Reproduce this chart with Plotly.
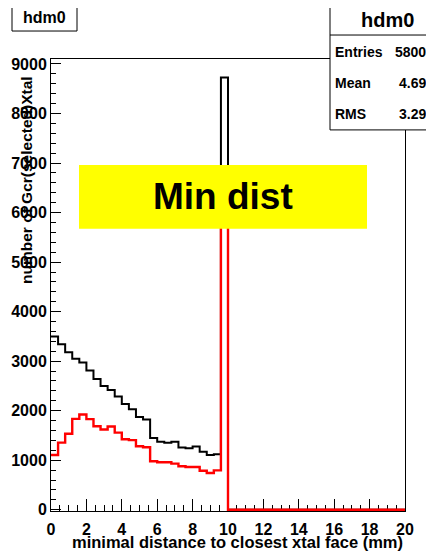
import numpy as np
import plotly.graph_objects as go

# ---- data -------------------------------------------------------------
x_min, x_max, n_bins = 0.0, 20.0, 50
black_counts = [3500, 3340, 3180, 3050, 2975, 2810, 2640, 2497, 2420, 2285,
                2136, 2030, 1875, 1822, 1451, 1375, 1355, 1375, 1255, 1240,
                1275, 1170, 1105, 1120, 8725] + [0] * 25
red_counts = [1105, 1355, 1535, 1835, 1923, 1830, 1687, 1619, 1680, 1558,
              1423, 1405, 1282, 1262, 978, 958, 958, 931, 877, 864,
              864, 789, 742, 796, 6500] + [0] * 25
hist_name = "hdm0"
stat_labels = ["Entries", "Mean", "RMS"]
stat_values = ["58004", "4.699", "3.292"]
x_title = "minimal distance to closest xtal face (mm)"
y_title = "number of Gcr(selected)Xtal"
label_text = "Min dist"

edges = list(np.linspace(x_min, x_max, n_bins + 1))

OFF = 8  # page body margin
W, H = 434 - OFF, 559 - OFF
L, R, T, B = 51 - OFF, 405 - OFF, 59 - OFF, 511.5 - OFF
Y0, Y1 = -25, 9100
FONT = "Liberation Sans"


def px(x):
    return (x - OFF - L) / (R - L)


def py(y):
    return (B - (y - OFF)) / (B - T)


def step_xy(counts):
    return edges, list(counts) + [counts[-1]]


fig = go.Figure()
bx, by = step_xy(black_counts)
fig.add_trace(go.Scatter(x=bx, y=by, mode="lines", line=dict(color="black", width=2, shape="hv"),
                         hoverinfo="skip", showlegend=False))
rx, ry = step_xy(red_counts)
fig.add_trace(go.Scatter(x=rx, y=ry, mode="lines", line=dict(color="#ff0000", width=2.4, shape="hv"),
                         hoverinfo="skip", showlegend=False))

tickfont = dict(family=FONT, size=16, color="black", weight="bold")

fig.update_xaxes(range=[x_min, x_max], dtick=2, tick0=0, ticks="inside", ticklen=12,
                 tickcolor="black", tickwidth=1, showgrid=False, zeroline=False,
                 showline=True, linecolor="black", linewidth=1, mirror=True,
                 tickfont=tickfont, layer="below traces", ticklabelstandoff=4, automargin=False,
                 minor=dict(dtick=0.5, ticks="inside", ticklen=6, tickcolor="black", showgrid=False))
fig.update_yaxes(range=[Y0, Y1], dtick=1000, tick0=0, ticks="inside", ticklen=10,
                 tickcolor="black", tickwidth=1, showgrid=False, zeroline=False,
                 showline=True, linecolor="black", linewidth=1, mirror=True,
                 tickfont=tickfont, layer="below traces", automargin=False,
                 minor=dict(dtick=200, ticks="inside", ticklen=5, tickcolor="black", showgrid=False))

shapes = []
annotations = []

# title box
shapes.append(dict(type="rect", xref="paper", yref="paper", x0=px(12), x1=px(77), y0=py(31), y1=py(4),
                   line=dict(color="black", width=1), fillcolor="white", layer="above"))
annotations.append(dict(xref="paper", yref="paper", x=px(44.5), y=py(17.5), text=hist_name,
                        showarrow=False, xanchor="center", yanchor="middle",
                        font=dict(family=FONT, size=16, color="black", weight="bold")))

# stats box
shapes.append(dict(type="rect", xref="paper", yref="paper", x0=px(330), x1=px(444), y0=py(130), y1=py(3.5),
                   line=dict(color="black", width=1), fillcolor="white", layer="above"))
shapes.append(dict(type="line", xref="paper", yref="paper", x0=px(330), x1=px(444), y0=py(35), y1=py(35),
                   line=dict(color="black", width=1), layer="above"))
annotations.append(dict(xref="paper", yref="paper", x=px(387), y=py(19.5), text=hist_name,
                        showarrow=False, xanchor="center", yanchor="middle",
                        font=dict(family=FONT, size=20, color="black", weight="bold")))
for i, (lab, val) in enumerate(zip(stat_labels, stat_values)):
    yy = [52, 83, 114][i]
    annotations.append(dict(xref="paper", yref="paper", x=px(333), y=py(yy), text=lab,
                            showarrow=False, xanchor="left", yanchor="middle",
                            font=dict(family=FONT, size=14, color="black", weight="bold")))
    annotations.append(dict(xref="paper", yref="paper", x=px(436), y=py(yy), text=val,
                            showarrow=False, xanchor="right", yanchor="middle",
                            font=dict(family=FONT, size=14, color="black", weight="bold")))

# yellow label
shapes.append(dict(type="rect", xref="paper", yref="paper", x0=px(79), x1=px(367), y0=py(229), y1=py(165),
                   line=dict(width=0), fillcolor="#ffff00", layer="above"))
annotations.append(dict(xref="paper", yref="paper", x=px(223), y=py(197), text=label_text,
                        showarrow=False, xanchor="center", yanchor="middle",
                        font=dict(family=FONT, size=37, color="black", weight="bold")))

# axis titles
annotations.append(dict(xref="paper", yref="paper", x=px(405), y=py(543), text=x_title,
                        showarrow=False, xanchor="right", yanchor="middle",
                        font=dict(family=FONT, size=16.5, color="black", weight="bold")))
annotations.append(dict(xref="paper", yref="paper", x=px(27), y=py(74), text=y_title,
                        showarrow=False, xanchor="center", yanchor="top", textangle=-90,
                        font=dict(family=FONT, size=15.5, color="black", weight="bold")))

fig.update_layout(width=W, height=H, margin=dict(l=L, r=W - R, t=T, b=H - B, pad=0),
                  paper_bgcolor="white", plot_bgcolor="white",
                  shapes=shapes, annotations=annotations, showlegend=False)

fig.write_html("out.html")
